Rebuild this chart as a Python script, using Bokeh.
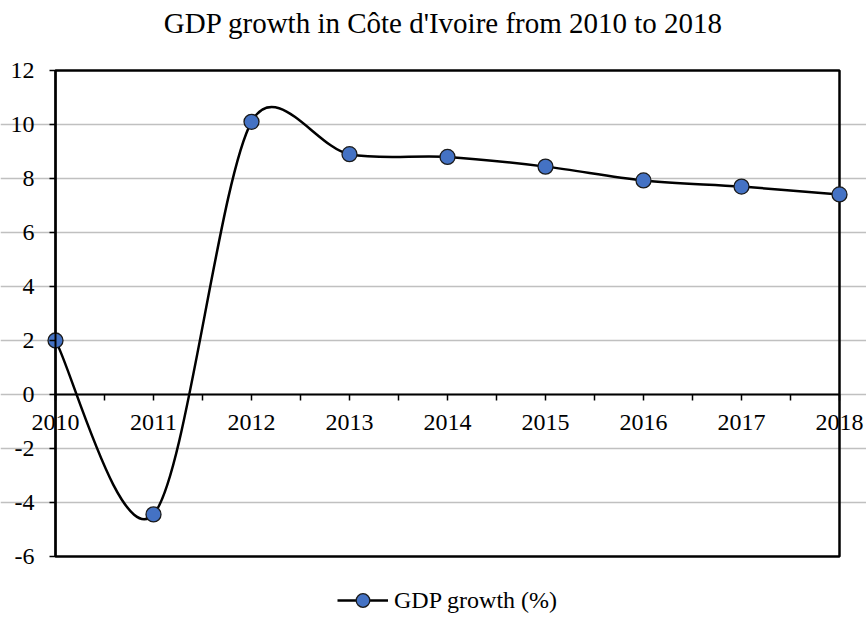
import math
from bokeh.plotting import figure
from bokeh.models import (FixedTicker, Legend, LegendItem, ColumnDataSource,
                          LinearAxis, Label, Range1d)
from bokeh.embed import file_html
from bokeh.resources import INLINE

# ---- data ----
years = [2010, 2011, 2012, 2013, 2014, 2015, 2016, 2017, 2018]
gdp_growth = [2.0, -4.44, 10.1, 8.9, 8.8, 8.44, 7.93, 7.7, 7.41]
y_ticks = [-6, -4, -2, 0, 2, 4, 6, 8, 10, 12]
title_text = "GDP growth in Côte d'Ivoire from 2010 to 2018"
series_name = "GDP growth (%)"

# ---- layout (pixels) ----
W, H = 866, 619
FL, FR, FT, FB = 55, 839, 70, 556          # plot-area box
X0, X1 = years[0], years[-1]
Y0, Y1 = y_ticks[0], y_ticks[-1]
px_x = (FR - FL) / (X1 - X0)
px_y = (FB - FT) / (Y1 - Y0)
FONT = "Liberation Serif"

# frame covers the whole canvas; ranges extended so the data box sits at FL..FR, FT..FB
x_range = Range1d(X0 - FL / px_x, X0 + (W - FL) / px_x)
y_range = Range1d(Y0 - (H - FB) / px_y, Y1 + FT / px_y)

p = figure(frame_width=W, frame_height=H, output_backend="svg", toolbar_location=None,
           x_range=x_range, y_range=y_range,
           min_border=0, x_axis_location=None, y_axis_location=None)
p.background_fill_color = "white"
p.border_fill_color = "white"
p.outline_line_color = None

# gridlines
p.xgrid.grid_line_color = None
p.ygrid.ticker = FixedTicker(ticks=[t for t in y_ticks if t not in (Y0, Y1)])
p.ygrid.bounds = (X0, X1)
p.ygrid.grid_line_color = "#c0c0c0"
p.ygrid.grid_line_width = 1.5

# plot-area border
p.quad(left=[X0], right=[X1], bottom=[Y0], top=[Y1],
       fill_alpha=0, line_color="black", line_width=2.5)

# y axis at x = 2010
ya = LinearAxis(fixed_location=X0, bounds=(Y0, Y1))
ya.ticker = FixedTicker(ticks=y_ticks)
ya.axis_line_color = "black"
ya.axis_line_width = 2
ya.major_tick_out = 6
ya.major_tick_in = 0
ya.major_tick_line_width = 1.5
ya.minor_tick_line_color = None
ya.major_label_text_font = FONT
ya.major_label_text_font_size = "24px"
ya.major_label_text_color = "black"
ya.major_label_standoff = 15
ya.major_label_overrides = {t: str(t) for t in y_ticks}
p.add_layout(ya, "left")

# x axis at y = 0
xa = LinearAxis(fixed_location=0, bounds=(X0, X1))
half = [y + 0.5 for y in years[:-1]]
xa.ticker = FixedTicker(ticks=years, minor_ticks=half)
xa.axis_line_color = "black"
xa.axis_line_width = 2
xa.major_tick_out = 6
xa.major_tick_in = 0
xa.minor_tick_out = 6
xa.minor_tick_in = 0
xa.major_tick_line_width = 1.5
xa.minor_tick_line_width = 1.5
xa.major_label_text_font = FONT
xa.major_label_text_font_size = "24px"
xa.major_label_text_color = "black"
xa.major_label_standoff = 14
xa.major_label_overrides = {y: str(y) for y in years}
p.add_layout(xa, "below")

# title
p.add_layout(Label(x=443, y=H - 22, x_units="screen", y_units="screen",
                   text=title_text, text_align="center", text_baseline="middle",
                   text_font=FONT, text_font_size="29px", text_color="black"))

# ---- smoothed line (Excel-style Bezier) ----
pts = list(zip(years, gdp_growth))
n = len(pts)
def dist(a, b):
    return math.hypot((a[0] - b[0]) * px_x, (a[1] - b[1]) * px_y)
bz = dict(x0=[], y0=[], x1=[], y1=[], cx0=[], cy0=[], cx1=[], cy1=[])
for i in range(n - 1):
    P0 = pts[i - 1] if i > 0 else pts[i]
    P1 = pts[i]
    P2 = pts[i + 1]
    P3 = pts[i + 2] if i + 2 < n else pts[i + 1]
    d12 = dist(P1, P2)
    d02 = dist(P0, P2)
    d13 = dist(P1, P3)
    f = 1 / 6
    g = 1 / 6
    if d02 / 6 >= d12 / 2 and d02 > 0:
        f = d12 / 2 / d02
    if d13 / 6 >= d12 / 2 and d13 > 0:
        g = d12 / 2 / d13
    bz["x0"].append(P1[0]); bz["y0"].append(P1[1])
    bz["x1"].append(P2[0]); bz["y1"].append(P2[1])
    bz["cx0"].append(P1[0] + f * (P2[0] - P0[0]))
    bz["cy0"].append(P1[1] + f * (P2[1] - P0[1]))
    bz["cx1"].append(P2[0] - g * (P3[0] - P1[0]))
    bz["cy1"].append(P2[1] - g * (P3[1] - P1[1]))

curve = p.bezier(source=ColumnDataSource(bz), x0="x0", y0="y0", x1="x1", y1="y1",
                 cx0="cx0", cy0="cy0", cx1="cx1", cy1="cy1",
                 line_color="black", line_width=2.5)
marks = p.scatter(years, gdp_growth, size=15, fill_color="#4472C4",
                  line_color="#1a1a1a", line_width=1.3)

legend = Legend(items=[LegendItem(label=series_name, renderers=[curve, marks])],
                location=(337, 2), orientation="horizontal",
                glyph_width=51, glyph_height=34, label_standoff=6,
                padding=0, margin=0, spacing=0,
                border_line_color=None, background_fill_alpha=0,
                label_text_font=FONT, label_text_font_size="24px",
                label_text_color="black")
p.add_layout(legend, "center")

open("out.html", "w").write(file_html(p, INLINE))
